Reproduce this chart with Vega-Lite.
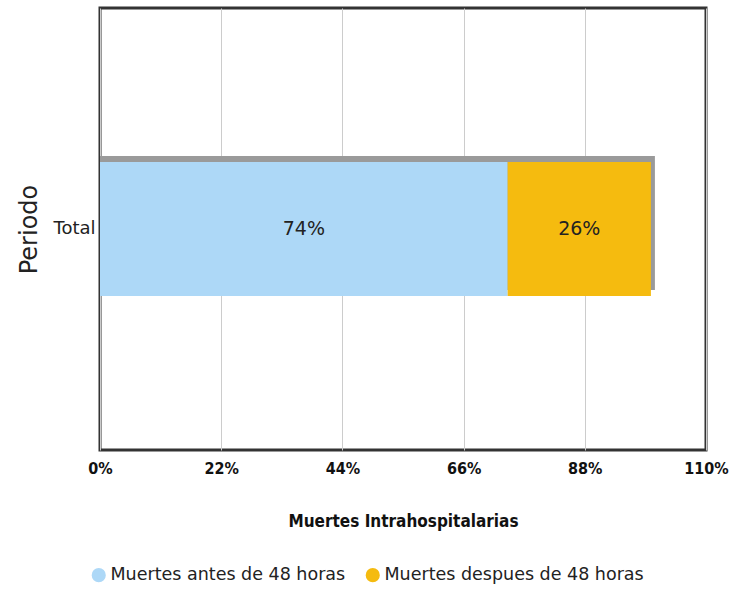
{
  "$schema": "https://vega.github.io/schema/vega-lite/v6.json",
  "autosize": "none",
  "width": 606,
  "height": 442,
  "padding": {"left": 100, "top": 8, "right": 33, "bottom": 143},
  "background": "white",
  "config": {
    "view": {"stroke": "#333333", "strokeWidth": 3},
    "font": "DejaVu Sans"
  },
  "data": {
    "values": [
      {"periodo": "Total", "serie": "Muertes antes de 48 horas", "value": 74},
      {"periodo": "Total", "serie": "Muertes despues de 48 horas", "value": 26}
    ]
  },
  "encoding": {
    "y": {
      "field": "periodo", "type": "nominal",
      "scale": {"paddingInner": 0.5, "paddingOuter": 0.575},
      "axis": {
        "title": "Periodo", "titleFontSize": 24, "titleFontWeight": "normal", "titleColor": "#222",
        "titlePadding": 11, "labelFontSize": 18, "labelColor": "#222", "labelPadding": 5,
        "ticks": false, "domain": false, "labelAngle": 0
      }
    }
  },
  "layer": [
    {
      "mark": {"type": "bar", "color": "#9a9a9a", "xOffset": 4, "yOffset": -6},
      "encoding": {
        "x": {
          "aggregate": "sum", "field": "value", "type": "quantitative",
          "scale": {"domain": [0, 110], "nice": false},
          "axis": {
            "values": [0, 22, 44, 66, 88, 110],
            "labelExpr": "datum.value + '%'",
            "labelFlush": false,
            "title": "Muertes Intrahospitalarias",
            "titleFont": "DejaVu Sans Condensed, DejaVu Sans",
            "titleFontSize": 17, "titleFontWeight": "bold", "titleColor": "#111",
            "titlePadding": 37,
            "labelFont": "DejaVu Sans Condensed, DejaVu Sans",
            "labelFontSize": 16, "labelFontWeight": "bold", "labelColor": "#111",
            "labelPadding": 10, "ticks": false, "domain": false,
            "grid": true, "gridColor": "#cccccc", "gridWidth": 1
          }
        }
      }
    },
    {
      "mark": {"type": "bar"},
      "encoding": {
        "x": {"field": "value", "type": "quantitative", "stack": "zero"},
        "color": {
          "field": "serie", "type": "nominal",
          "scale": {"range": ["#add8f7", "#f5bb0f"]},
          "legend": {
            "orient": "none", "legendX": -10, "legendY": 558,
            "direction": "horizontal", "title": null,
            "symbolType": "circle", "symbolSize": 200, "symbolStrokeWidth": 0,
            "labelFontSize": 17.5, "labelColor": "#222", "labelOffset": 3,
            "labelLimit": 400, "columnPadding": 18
          }
        }
      }
    },
    {
      "transform": [
        {"stack": "value", "groupby": ["periodo"], "sort": [{"field": "serie"}], "as": ["v0", "v1"]},
        {"fold": ["v0", "v1"], "as": ["k", "pos"]},
        {"aggregate": [{"op": "mean", "field": "pos", "as": "mid"}], "groupby": ["periodo", "serie", "value"]}
      ],
      "mark": {"type": "text", "fontSize": 19, "color": "#222", "text": {"expr": "datum.value + '%'"}},
      "encoding": {
        "x": {"field": "mid", "type": "quantitative"}
      }
    }
  ]
}
